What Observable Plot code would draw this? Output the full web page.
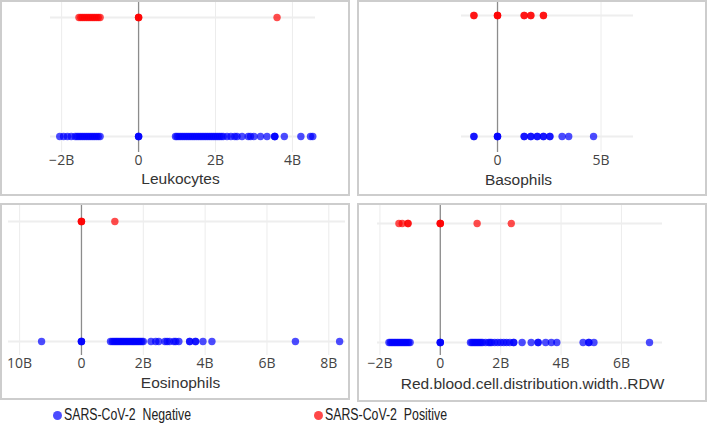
<!DOCTYPE html>
<html>
<head>
<meta charset="utf-8">
<script src="https://cdn.jsdelivr.net/npm/d3@7"></script>
<script src="https://cdn.jsdelivr.net/npm/@observablehq/plot@0.6"></script>
<style>
  html, body { margin: 0; padding: 0; background: #fff; }
  #root { position: relative; width: 709px; height: 431px; overflow: hidden; font-family: "Liberation Sans", Arial, sans-serif; }
  .panel { position: absolute; box-sizing: border-box; border: 2px solid #cdcdcd; background: #fff; }
  .panel svg { display: block; }
  .legend { position: absolute; top: 405px; height: 20px; white-space: nowrap; }
  .legend .dot { position: absolute; left: 0; top: 6px; width: 9px; height: 9px; border-radius: 50%; }
  .legend .txt { position: absolute; left: 11px; top: 0; font-size: 16px; line-height: 20px; color: #222; white-space: pre; transform-origin: 0 50%; }
</style>
</head>
<body>
<div id="root"></div>
<script>
// ---- Data ----
const statuses = ["Positive", "Negative"];
const statusLabels = ["SARS-CoV-2  Negative", "SARS-CoV-2  Positive"];
const statusColors = {Positive: "#ff0000", Negative: "#0000ff"};

const leukocytesPositive = [-1.55e9,-1.5e9,-1.45e9,-1.4e9,-1.35e9,-1.3e9,-1.25e9,-1.2e9,-1.15e9,-1.1e9,-1.05e9,-1.0e9,0,0,0,3.6e9];
const leukocytesNegative = [-2.05e9,-1.95e9,-1.85e9,-1.75e9,-1.65e9,-1.6e9,-1.55e9,-1.5e9,-1.45e9,-1.4e9,-1.35e9,-1.3e9,-1.25e9,-1.2e9,-1.15e9,-1.1e9,-1.05e9,-1.0e9,0,0,0,
  0.96e9,1.0e9,1.05e9,1.1e9,1.15e9,1.2e9,1.25e9,1.3e9,1.35e9,1.4e9,1.45e9,1.5e9,1.55e9,1.6e9,1.65e9,1.7e9,1.75e9,1.8e9,1.85e9,1.9e9,1.95e9,2.0e9,2.05e9,2.1e9,2.15e9,2.2e9,2.3e9,2.4e9,2.5e9,2.56e9,
  2.69e9,2.85e9,2.91e9,3.0e9,3.17e9,3.34e9,3.54e9,3.54e9,3.54e9,3.79e9,4.22e9,4.47e9,4.53e9];
const leukocytesTicks = [-2e9, 0, 2e9, 4e9];
const leukocytesTickLabels = ["\u22122B", "0", "2B", "4B"];

const basophilsPositive = [-1.14e9,-1.14e9,0,0,0,1.29e9,1.29e9,1.61e9,1.61e9,2.22e9,2.22e9];
const basophilsNegative = [-1.14e9,-1.14e9,0,0,0,1.29e9,1.29e9,1.61e9,1.61e9,1.92e9,1.92e9,2.22e9,2.22e9,2.53e9,2.53e9,3.12e9,3.44e9,4.64e9];
const basophilsTicks = [0, 5e9];
const basophilsTickLabels = ["0", "5B"];

const eosinophilsPositive = [0,0,0,1.08e9];
const eosinophilsNegative = [-1.29e9,0,0,0,
  0.94e9,1.0e9,1.05e9,1.1e9,1.15e9,1.2e9,1.25e9,1.3e9,1.35e9,1.4e9,1.45e9,1.5e9,1.55e9,1.6e9,1.65e9,1.7e9,1.75e9,1.8e9,1.85e9,1.9e9,1.95e9,2.0e9,
  2.25e9,2.4e9,2.5e9,2.7e9,2.77e9,2.85e9,2.99e9,3.05e9,3.15e9,3.5e9,3.5e9,3.69e9,3.69e9,3.93e9,4.22e9,6.92e9,8.35e9];
const eosinophilsTicks = [-2e9, 0, 2e9, 4e9, 6e9, 8e9];
const eosinophilsTickLabels = ["10B", "0", "2B", "4B", "6B", "8B"];

const rdwPositive = [-1.37e9,-1.26e9,-1.07e9,-1.07e9,0,0,0,1.22e9,2.35e9];
const rdwNegative = [-1.7e9,-1.65e9,-1.6e9,-1.55e9,-1.5e9,-1.45e9,-1.4e9,-1.35e9,-1.3e9,-1.25e9,-1.2e9,-1.15e9,-1.1e9,-1.05e9,-1.0e9,0,0,0,
  1.0e9,1.05e9,1.1e9,1.15e9,1.2e9,1.25e9,1.3e9,1.35e9,1.4e9,1.5e9,1.6e9,1.65e9,1.7e9,1.8e9,1.9e9,2.0e9,2.1e9,2.2e9,2.3e9,2.43e9,2.43e9,
  2.71e9,3.01e9,3.24e9,3.24e9,3.49e9,3.68e9,3.86e9,4.73e9,4.92e9,4.92e9,5.09e9,6.93e9];
const rdwTicks = [-2e9, 0, 2e9, 4e9, 6e9];
const rdwTickLabels = ["\u22122B", "0", "2B", "4B", "6B"];

const panelTitles = ["Leukocytes", "Basophils", "Eosinophils", "Red.blood.cell.distribution.width..RDW"];

// ---- Layout (page pixels) ----
const panels = [
  {title: panelTitles[0], pos: leukocytesPositive, neg: leukocytesNegative, ticks: leukocytesTicks, labels: leukocytesTickLabels,
   box: [0, 0, 350, 196], xL: 50, xR: 315, domain: [-2.29e9, 4.6e9], yRed: 17, yBlue: 136, frameBottom: 152, titleX: 180, titleY: 183},
  {title: panelTitles[1], pos: basophilsPositive, neg: basophilsNegative, ticks: basophilsTicks, labels: basophilsTickLabels,
   box: [357, 0, 350, 196], xL: 461, xR: 633, domain: [-1.74e9, 6.57e9], yRed: 15, yBlue: 136, frameBottom: 152, titleX: 518, titleY: 184},
  {title: panelTitles[2], pos: eosinophilsPositive, neg: eosinophilsNegative, ticks: eosinophilsTicks, labels: eosinophilsTickLabels,
   box: [0, 203, 350, 197], xL: 8, xR: 345, domain: [-2.36e9, 8.54e9], yRed: 221, yBlue: 341, frameBottom: 355, titleX: 180, titleY: 387},
  {title: panelTitles[3], pos: rdwPositive, neg: rdwNegative, ticks: rdwTicks, labels: rdwTickLabels,
   box: [357, 203, 350, 199], xL: 377, xR: 662, domain: [-2.08e9, 7.36e9], yRed: 223, yBlue: 342, frameBottom: 355, titleX: 532, titleY: 388}
];

const root = document.getElementById("root");
const B = 2; // border width

for (const p of panels) {
  const [bx, by, bw, bh] = p.box;
  const ox = bx + B, oy = by + B;
  const w = bw - 2 * B, h = bh - 2 * B;
  const rows = [
    ...p.neg.map(v => ({value: v, status: "Negative"})),
    ...p.pos.map(v => ({value: v, status: "Positive"}))
  ];
  const fmt = d => { const i = p.ticks.indexOf(d); return i >= 0 ? p.labels[i] : ""; };
  const mL = p.xL - ox, mR = w - (p.xR - ox);
  const frameCenter = (p.xL + p.xR) / 2;
  const chart = Plot.plot({
    width: w,
    height: h,
    marginTop: 0,
    marginLeft: mL,
    marginRight: mR,
    marginBottom: h - (p.frameBottom - oy),
    x: {domain: p.domain, ticks: p.ticks, tickFormat: fmt, tickSize: 0, tickPadding: 3, label: null},
    y: {type: "point", domain: statuses, range: [p.yRed - oy, p.yBlue - oy], padding: 0, axis: null},
    style: {fontFamily: "'Open Sans', 'Liberation Sans', sans-serif", fontSize: "14px", color: "#444", background: "#fff", overflow: "visible"},
    marks: [
      Plot.ruleX(p.ticks, {stroke: "#ececec", strokeWidth: 1}),
      Plot.ruleY(statuses, {stroke: "#eeeeee", strokeWidth: 2}),
      Plot.ruleX([0], {stroke: "#8c8c8c", strokeWidth: 1.3}),
      Plot.dot(rows, {x: "value", y: "status", r: 3.7, fill: d => statusColors[d.status], fillOpacity: 0.7, stroke: "none"}),
      Plot.text([p.title], {frameAnchor: "bottom", dx: p.titleX - frameCenter, dy: p.titleY - p.frameBottom, fontSize: 15.5, fill: "#333",
        fontFamily: "'Liberation Sans', Arial, sans-serif"})
    ]
  });
  const div = document.createElement("div");
  div.className = "panel";
  div.style.left = bx + "px";
  div.style.top = by + "px";
  div.style.width = bw + "px";
  div.style.height = bh + "px";
  div.appendChild(chart);
  root.appendChild(div);
}

// ---- Legend ----
const legendItems = [
  {label: statusLabels[0], color: "rgba(0,0,255,0.7)", left: 53, textWidth: 127},
  {label: statusLabels[1], color: "rgba(255,0,0,0.72)", left: 314, textWidth: 122}
];
for (const it of legendItems) {
  const el = document.createElement("div");
  el.className = "legend";
  el.style.left = it.left + "px";
  const dot = document.createElement("span");
  dot.className = "dot";
  dot.style.background = it.color;
  const txt = document.createElement("span");
  txt.className = "txt";
  txt.textContent = it.label;
  el.appendChild(dot);
  el.appendChild(txt);
  root.appendChild(el);
  const natural = txt.getBoundingClientRect().width;
  if (natural > 0) txt.style.transform = `scaleX(${it.textWidth / natural})`;
}
</script>
</body>
</html>
